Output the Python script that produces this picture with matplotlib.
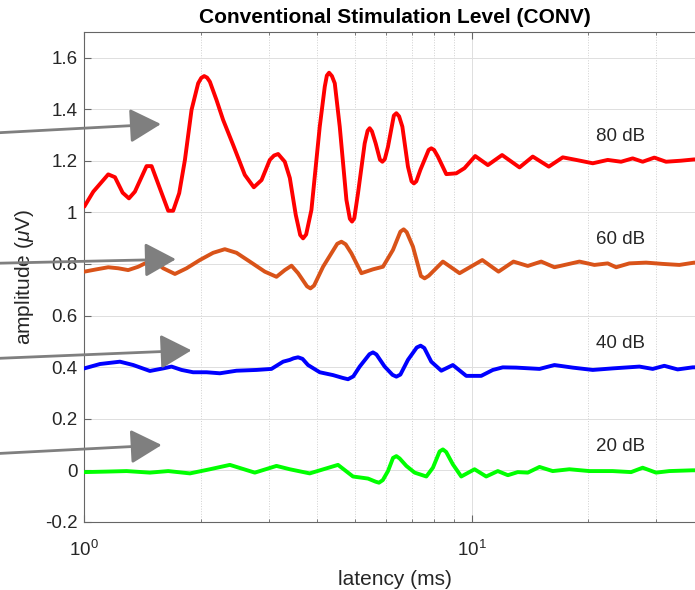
import matplotlib
matplotlib.use("Agg")
import matplotlib.pyplot as plt
from matplotlib.ticker import LogLocator, NullFormatter

plt.rcParams['font.family'] = ['Liberation Sans', 'DejaVu Sans']
plt.rcParams['mathtext.fontset'] = 'custom'
plt.rcParams['mathtext.rm'] = 'Liberation Sans'
plt.rcParams['mathtext.it'] = 'Liberation Sans:italic'
plt.rcParams['mathtext.bf'] = 'Liberation Sans:bold'

# ---- data (latency in ms, amplitude in uV incl. display offset) ----
lat_80 = [1.000, 1.055, 1.153, 1.200, 1.256, 1.304, 1.351, 1.448, 1.492, 1.567, 1.647, 1.696,
          1.758, 1.819, 1.892, 1.968, 2.005, 2.040, 2.075, 2.110, 2.195, 2.283, 2.423, 2.597,
          2.740, 2.869, 3.013, 3.090, 3.166, 3.294, 3.394, 3.516, 3.610, 3.672, 3.740, 3.859,
          4.055, 4.178, 4.230, 4.286, 4.360, 4.434, 4.567, 4.752, 4.850, 4.913, 4.980, 5.091,
          5.297, 5.390, 5.457, 5.530, 5.655, 5.800, 5.885, 5.970, 6.084, 6.300, 6.395, 6.500,
          6.627, 6.851, 7.000, 7.099, 7.200, 7.374, 7.750, 7.870, 8.000, 8.186, 8.604, 9.131,
          9.588, 10.22, 11.02, 11.99, 13.30, 14.39, 15.83, 17.20, 18.63, 20.56, 22.47, 24.33,
          26.06, 27.66, 29.65, 31.78, 34.74, 37.60, 40.0]
amp_80 = [1.022, 1.080, 1.147, 1.136, 1.076, 1.054, 1.080, 1.179, 1.179, 1.093, 1.006, 1.006,
          1.074, 1.203, 1.397, 1.500, 1.521, 1.528, 1.522, 1.506, 1.435, 1.358, 1.261, 1.145,
          1.097, 1.125, 1.203, 1.220, 1.226, 1.196, 1.133, 0.990, 0.912, 0.899, 0.914, 1.009,
          1.332, 1.487, 1.530, 1.541, 1.528, 1.500, 1.332, 1.048, 0.975, 0.964, 0.977, 1.074,
          1.267, 1.316, 1.326, 1.314, 1.267, 1.204, 1.196, 1.206, 1.254, 1.375, 1.384, 1.372,
          1.332, 1.177, 1.120, 1.112, 1.120, 1.164, 1.242, 1.248, 1.242, 1.216, 1.148, 1.151,
          1.171, 1.218, 1.183, 1.222, 1.174, 1.216, 1.177, 1.213, 1.203, 1.190, 1.203, 1.196,
          1.209, 1.196, 1.212, 1.196, 1.200, 1.205, 1.200]

lat_60 = [1.000, 1.076, 1.153, 1.224, 1.298, 1.378, 1.448, 1.522, 1.599, 1.714, 1.837, 1.988,
          2.151, 2.306, 2.472, 2.675, 2.925, 3.135, 3.294, 3.428, 3.565, 3.760, 3.837, 3.920,
          4.136, 4.500, 4.613, 4.730, 4.895, 5.195, 5.565, 5.905, 6.266, 6.550, 6.679, 6.800,
          7.057, 7.400, 7.565, 7.750, 8.433, 9.312, 10.66, 11.74, 12.83, 13.97, 15.13, 16.37,
          18.99, 20.76, 22.47, 23.62, 25.56, 28.22, 31.14, 34.40, 37.60, 40.0]
amp_60 = [0.770, 0.779, 0.787, 0.783, 0.776, 0.789, 0.805, 0.809, 0.783, 0.761, 0.783, 0.815,
          0.843, 0.857, 0.843, 0.809, 0.770, 0.750, 0.776, 0.793, 0.764, 0.713, 0.705, 0.716,
          0.789, 0.878, 0.886, 0.876, 0.841, 0.764, 0.779, 0.789, 0.854, 0.925, 0.934, 0.923,
          0.867, 0.753, 0.744, 0.754, 0.809, 0.764, 0.815, 0.770, 0.809, 0.792, 0.809, 0.787,
          0.809, 0.796, 0.802, 0.787, 0.802, 0.805, 0.800, 0.796, 0.805, 0.800]

lat_40 = [1.000, 1.098, 1.236, 1.338, 1.477, 1.599, 1.680, 1.783, 1.910, 2.069, 2.239, 2.472,
          2.785, 3.043, 3.261, 3.394, 3.470, 3.565, 3.660, 3.782, 4.055, 4.388, 4.650, 4.797,
          4.950, 5.142, 5.450, 5.565, 5.680, 5.965, 6.250, 6.395, 6.550, 6.851, 7.220, 7.387,
          7.550, 7.870, 8.353, 8.949, 9.690, 10.59, 11.35, 12.04, 13.04, 14.98, 16.37, 18.25,
          20.56, 23.14, 27.13, 29.36, 31.46, 34.05, 37.23, 40.0]
amp_40 = [0.395, 0.412, 0.421, 0.408, 0.385, 0.395, 0.402, 0.389, 0.380, 0.380, 0.376, 0.386,
          0.389, 0.393, 0.421, 0.428, 0.434, 0.438, 0.432, 0.408, 0.380, 0.369, 0.358, 0.353,
          0.364, 0.402, 0.450, 0.457, 0.449, 0.402, 0.370, 0.363, 0.371, 0.428, 0.476, 0.483,
          0.474, 0.421, 0.386, 0.408, 0.366, 0.366, 0.389, 0.399, 0.398, 0.393, 0.408, 0.398,
          0.389, 0.395, 0.402, 0.393, 0.405, 0.391, 0.399, 0.400]

lat_20 = [1.000, 1.142, 1.286, 1.477, 1.647, 1.874, 2.110, 2.376, 2.756, 3.135, 3.394, 3.820,
          4.520, 4.941, 5.402, 5.650, 5.767, 5.900, 6.084, 6.270, 6.395, 6.520, 6.786, 7.129,
          7.642, 7.947, 8.270, 8.433, 8.600, 8.949, 9.406, 10.18, 10.91, 11.69, 12.41, 13.16,
          13.97, 14.98, 16.20, 17.89, 20.16, 23.14, 25.82, 27.66, 29.95, 32.41, 37.23, 40.0]
amp_20 = [-0.007, -0.005, -0.003, -0.009, -0.003, -0.012, 0.004, 0.021, -0.009, 0.017, 0.004, -0.012,
          0.021, -0.024, -0.032, -0.044, -0.048, -0.038, -0.003, 0.048, 0.055, 0.046, 0.017, -0.009,
          -0.024, 0.010, 0.073, 0.081, 0.071, 0.023, -0.024, 0.004, -0.024, -0.003, -0.019, -0.007,
          -0.009, 0.013, -0.003, 0.004, -0.003, -0.003, -0.007, 0.010, -0.009, -0.003, 0.000, 0.000]

level_labels = ['80 dB', '60 dB', '40 dB', '20 dB']
level_offsets = [1.2, 0.8, 0.4, 0.0]
level_colors = ['#ff0000', '#d95319', '#0000ff', '#00ff00']

# arrow annotations (tip / tail, data units)
arrow_tip_x = [1.577, 1.724, 1.892, 1.584]
arrow_tip_y = [1.342, 0.818, 0.465, 0.098]
arrow_tail_x = [0.5, 0.5, 0.5, 0.5]
arrow_tail_y = [1.302, 0.800, 0.429, 0.059]

yticks = [-0.2, 0, 0.2, 0.4, 0.6, 0.8, 1.0, 1.2, 1.4, 1.6]
ytick_labels = ['-0.2', '0', '0.2', '0.4', '0.6', '0.8', '1', '1.2', '1.4', '1.6']

# ---- figure ----
W, H = 695, 590
fig = plt.figure(figsize=(W / 100, H / 100), dpi=100)
ax_left, ax_right, ax_top, ax_bottom = 84.3, 704.7, 31.7, 521.9
ax = fig.add_axes([ax_left / W, (H - ax_bottom) / H, (ax_right - ax_left) / W, (ax_bottom - ax_top) / H])

series = [(lat_80, amp_80), (lat_60, amp_60), (lat_40, amp_40), (lat_20, amp_20)]
for (lx, ly), col in zip(series, level_colors):
    ax.plot(lx, ly, color=col, lw=2.8, solid_joinstyle='round', solid_capstyle='round', zorder=3)

for lab, off in zip(level_labels, level_offsets):
    ax.text(21.0, off + 0.093, lab, fontsize=13.5, color='#262626', va='center', ha='left', zorder=4)

for tx, ty, sx, sy in zip(arrow_tip_x, arrow_tip_y, arrow_tail_x, arrow_tail_y):
    ax.annotate('', xy=(tx, ty), xytext=(sx, sy), annotation_clip=False,
                arrowprops=dict(arrowstyle='-|>,head_length=0.4,head_width=0.22',
                                mutation_scale=48, color='#7f7f7f', lw=2.0,
                                shrinkA=0, shrinkB=0), zorder=5)

ax.set_xscale('log')
ax.set_xlim(1, 40)
ax.set_ylim(-0.2, 1.7)
ax.set_yticks(yticks)
ax.set_yticklabels(ytick_labels)
ax.xaxis.set_major_locator(LogLocator(base=10))
ax.xaxis.set_minor_locator(LogLocator(base=10, subs=[2, 3, 4, 5, 6, 7, 8, 9]))
ax.xaxis.set_minor_formatter(NullFormatter())

ax.grid(True, which='major', axis='both', color='#dedede', lw=0.7, ls='-', zorder=0)
ax.grid(True, which='minor', axis='x', color='#d0d0d0', lw=0.7, ls=':', zorder=0)
ax.set_axisbelow(True)

for s in ax.spines.values():
    s.set_color('#666666')
    s.set_linewidth(0.8)

ax.tick_params(which='both', direction='in', top=True, right=True, colors='#666666',
               labelcolor='#262626', labelsize=13.5)
ax.tick_params(which='major', length=5, width=0.8)
ax.tick_params(which='minor', length=2.5, width=0.6)
ax.tick_params(axis='x', pad=13)
ax.tick_params(axis='y', pad=5)

ax.set_title('Conventional Stimulation Level (CONV)', fontsize=15, fontweight='bold',
             color='#000000', pad=6)
ax.set_xlabel('latency (ms)', fontsize=15, color='#262626', labelpad=7)
ax.set_ylabel(r'amplitude ($\mu$V)', fontsize=15, color='#262626', labelpad=6)

fig.savefig('out.png', dpi=100)
